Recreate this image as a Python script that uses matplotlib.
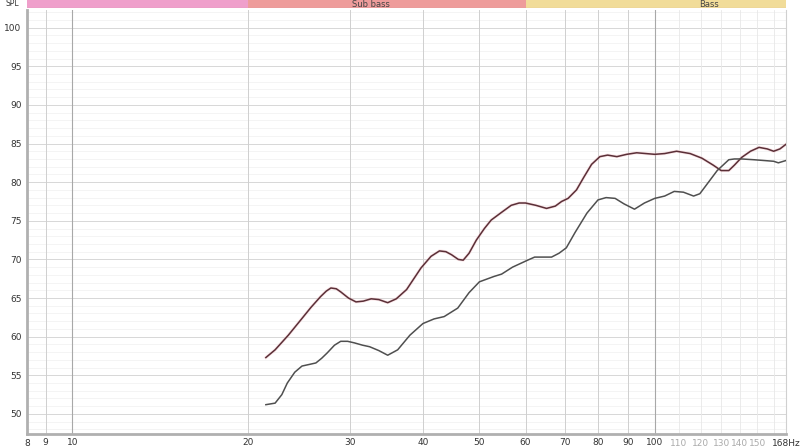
import numpy as np
import matplotlib.pyplot as plt
from matplotlib.ticker import FixedLocator, NullFormatter

# Courbe haute (trace rouge sombre)
freq_a = [21.5, 22.3, 23.5, 24.7, 25.7, 26.7, 27.3, 27.8, 28.4, 28.9, 29.8, 30.7, 31.6, 32.6,
          33.6, 34.8, 36.0, 37.5, 39.7, 41.3, 42.7, 43.8, 44.8, 46.0, 46.9, 48.0,
          49.4, 51.0, 52.4, 54.6, 56.7, 58.5, 60.0, 62.5, 65.2, 67.5, 69.2, 71.0,
          73.4, 75.5, 77.9, 80.5, 83.0, 86.1, 89.5, 93.1, 96.5, 100.0, 104.0, 109.0,
          115.0, 120.5, 126.0, 130.0, 134.0, 137.0, 141.0, 146.0, 151.0, 156.0, 160.0,
          164.0, 168.0]
spl_a = [57.3, 58.3, 60.2, 62.2, 63.8, 65.2, 65.9, 66.3, 66.2, 65.8, 65.0, 64.5, 64.6, 64.9,
         64.8, 64.4, 64.9, 66.1, 68.9, 70.4, 71.1, 71.0, 70.6, 70.0, 69.9, 70.8,
         72.5, 74.0, 75.1, 76.1, 77.0, 77.3, 77.3, 77.0, 76.6, 76.9, 77.5, 77.9,
         79.0, 80.6, 82.3, 83.3, 83.5, 83.3, 83.6, 83.8, 83.7, 83.6, 83.7, 84.0,
         83.7, 83.1, 82.2, 81.5, 81.5, 82.2, 83.2, 84.0, 84.5, 84.3, 84.0, 84.3, 84.9]

# Courbe basse (trace grise)
freq_b = [21.5, 22.3, 22.9, 23.4, 24.1, 24.8, 25.5, 26.2, 26.8, 27.4, 28.2, 28.9,
          29.7, 30.5, 31.5, 32.4, 33.6, 34.8, 36.2, 38.0, 40.0, 41.8, 43.5, 45.9,
          48.0, 50.0, 53.0, 54.6, 57.0, 60.5, 62.2, 66.5, 68.5, 70.5, 73.0, 76.5,
          79.9, 82.5, 85.5, 88.5, 92.3, 96.0, 100.0, 104.0, 108.0, 112.0, 116.6, 119.5,
          122.0, 128.0, 134.0, 137.0, 141.0, 148.0, 154.0, 160.0, 163.0, 168.0]
spl_b = [51.2, 51.4, 52.5, 54.0, 55.4, 56.2, 56.4, 56.6, 57.2, 57.9, 58.9, 59.4,
         59.4, 59.2, 58.9, 58.7, 58.2, 57.6, 58.3, 60.2, 61.7, 62.3, 62.6, 63.7,
         65.7, 67.1, 67.8, 68.1, 69.0, 69.9, 70.3, 70.3, 70.8, 71.5, 73.5, 76.0,
         77.7, 78.0, 77.9, 77.2, 76.5, 77.3, 77.9, 78.2, 78.8, 78.7, 78.2, 78.5,
         79.4, 81.5, 82.9, 83.0, 83.0, 82.9, 82.8, 82.7, 82.5, 82.8]

# Graduations
x_major = [9, 10, 20, 30, 40, 50, 60, 70, 80, 90, 100]
x_minor = [110, 120, 130, 140, 150, 160]
x_labels = ['9', '10', '20', '30', '40', '50', '60', '70', '80', '90', '100']
y_major = [50, 55, 60, 65, 70, 75, 80, 85, 90, 95, 100]

# Bandes de fréquence (nom, début, fin, couleur)
band_names = ['', 'Sub bass', 'Bass']
band_edges = [8.37, 20, 60, 168]
band_colors = ['#ef9fcb', '#ee9c9b', '#f1dc99']

xmin, xmax = 8.37, 168
ymin, ymax = 47.4, 102.3

fig = plt.figure(figsize=(8, 4.47), dpi=100)
ax = fig.add_axes([0.034, 0.029, 0.9485, 0.949])
ax.set_xscale('log')
ax.set_xlim(xmin, xmax)
ax.set_ylim(ymin, ymax)

# grille
for y in np.arange(48, 103, 1):
    ax.axhline(y, color='#f2f2f2', lw=0.6, zorder=0)
for y in y_major:
    ax.axhline(y, color='#d8d8d8', lw=0.7, zorder=0)
for x in x_major:
    c = '#a8a8a8' if x in (10, 100) else '#cfcfcf'
    ax.axvline(x, color=c, lw=0.8 if x in (10, 100) else 0.7, zorder=0)
for x in x_minor:
    ax.axvline(x, color='#e8e8e8', lw=0.6, zorder=0)

# courbes
ax.plot(freq_a, spl_a, color='#f2b6bd', lw=2.2, alpha=0.35, zorder=2)
ax.plot(freq_a, spl_a, color='#5a2f37', lw=1.1, zorder=3)
ax.plot(freq_b, spl_b, color='#4f4f4f', lw=1.1, zorder=3)

# axes
ax.spines['top'].set_visible(False)
ax.spines['left'].set_color('#b0b0b0')
ax.spines['left'].set_linewidth(2)
ax.spines['bottom'].set_color('#b0b0b0')
ax.spines['bottom'].set_linewidth(2)
ax.spines['right'].set_color('#d0d0d0')
ax.spines['right'].set_linewidth(0.8)

ax.xaxis.set_major_locator(FixedLocator(x_major))
ax.xaxis.set_minor_locator(FixedLocator([]))
ax.xaxis.set_minor_formatter(NullFormatter())
ax.set_xticklabels(x_labels)
ax.set_yticks(y_major)
ax.tick_params(axis='both', length=0, labelsize=6.5, colors='#333333', pad=3)
ax.tick_params(axis='y', pad=4)

# étiquettes supplémentaires
ax.text(xmin, -0.012, '8', transform=ax.get_xaxis_transform(), ha='center', va='top',
        fontsize=6.5, color='#333333')
for x in x_minor[:-1]:
    ax.text(x, -0.012, str(x), transform=ax.get_xaxis_transform(), ha='center', va='top',
            fontsize=6.5, color='#aaaaaa')
ax.text(xmax, -0.012, '168Hz', transform=ax.get_xaxis_transform(), ha='center', va='top',
        fontsize=6.5, color='#333333')

# bande du haut
bx = fig.add_axes([0.034, 0.982, 0.9485, 0.018])
bx.set_xscale('log')
bx.set_xlim(xmin, xmax)
bx.set_ylim(0, 1)
for name, x0, x1, c in zip(band_names, band_edges[:-1], band_edges[1:], band_colors):
    bx.axvspan(x0, x1, color=c, lw=0)
bx.axhline(0.02, color='#c08a8a', lw=0.8)
bx.text(32.6, 0.45, 'Sub bass', ha='center', va='center', fontsize=6, color='#444444')
bx.text(124, 0.45, 'Bass', ha='center', va='center', fontsize=6, color='#444444')
bx.axis('off')

fig.text(0.016, 0.992, 'SPL', ha='center', va='center', fontsize=5.5, color='#333333')

fig.savefig('out.png', dpi=100)
